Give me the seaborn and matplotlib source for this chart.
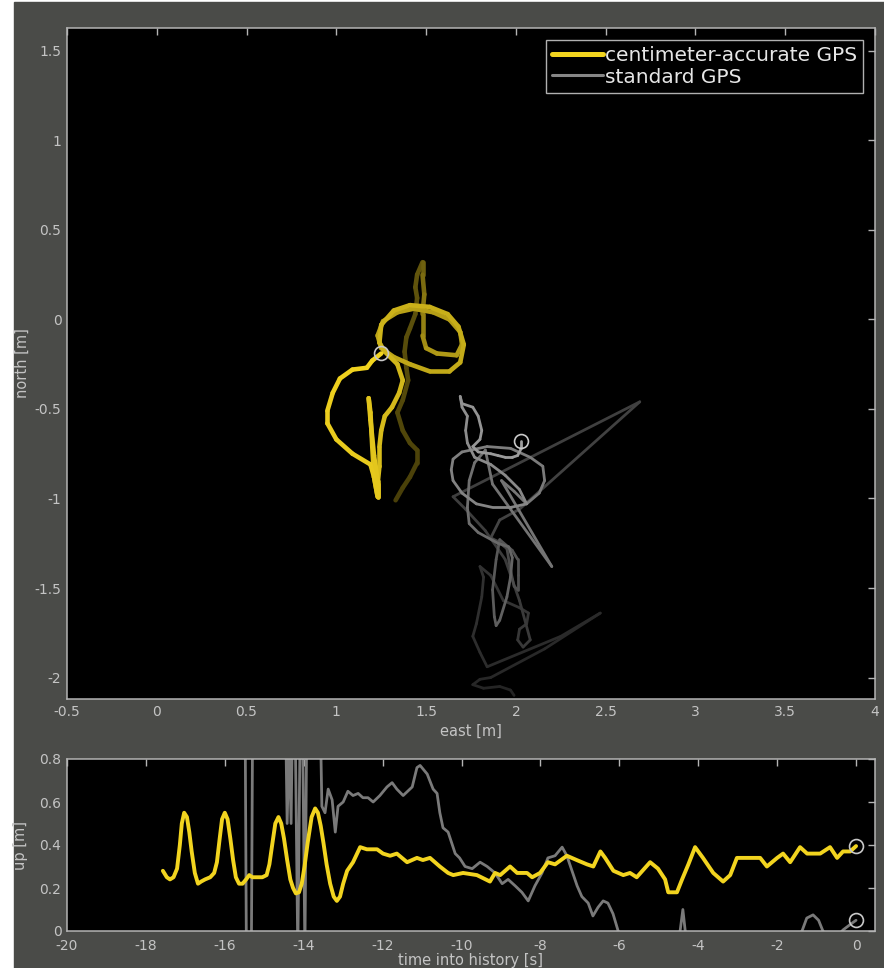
import numpy as np
import matplotlib
matplotlib.use("Agg")
import matplotlib.pyplot as plt
import seaborn as sns
from matplotlib.collections import LineCollection
from matplotlib.lines import Line2D
from matplotlib.patches import Rectangle
from matplotlib.ticker import FuncFormatter

# ---------------------------------------------------------------- data
# centimeter-accurate GPS track, oldest -> newest (metres)
rtk_east = [1.33, 1.37, 1.41, 1.45, 1.45, 1.41, 1.37, 1.34, 1.37, 1.40,
            1.39, 1.38, 1.39, 1.41, 1.44, 1.45, 1.44, 1.45, 1.48, 1.48,
            1.49, 1.48, 1.48, 1.50, 1.56, 1.67, 1.70, 1.69, 1.63, 1.54,
            1.43, 1.34, 1.26, 1.23, 1.25, 1.32, 1.41, 1.52, 1.63, 1.69,
            1.71, 1.68, 1.62, 1.52, 1.41, 1.32, 1.25, 1.24, 1.27, 1.34,
            1.37, 1.35, 1.31, 1.27, 1.25, 1.24, 1.24, 1.23, 1.23, 1.21,
            1.20, 1.19, 1.18, 1.19, 1.21, 1.23, 1.23, 1.21, 1.19, 1.09,
            1.00, 0.95, 0.95, 0.98, 1.02, 1.09, 1.17, 1.20, 1.25]
rtk_north = [-1.01, -0.94, -0.88, -0.80, -0.73, -0.69, -0.62, -0.52, -0.45, -0.34,
             -0.27, -0.18, -0.10, -0.05, 0.03, 0.12, 0.18, 0.25, 0.32, 0.25,
             0.14, 0.03, -0.09, -0.16, -0.19, -0.20, -0.14, -0.07, 0.00, 0.04,
             0.06, 0.04, -0.01, -0.09, -0.16, -0.21, -0.25, -0.29, -0.29, -0.24,
             -0.14, -0.04, 0.03, 0.07, 0.08, 0.05, -0.03, -0.13, -0.18, -0.25,
             -0.34, -0.41, -0.49, -0.54, -0.62, -0.71, -0.82, -0.92, -0.99, -0.88,
             -0.71, -0.52, -0.44, -0.56, -0.76, -0.90, -0.99, -0.88, -0.81, -0.75,
             -0.67, -0.58, -0.51, -0.41, -0.33, -0.28, -0.27, -0.23, -0.19]

# standard GPS track, oldest -> newest (metres)
std_east = [1.99, 1.97, 1.91, 1.82, 1.76, 1.80, 1.86, 2.16, 2.47, 2.25,
            1.84, 1.80, 1.76, 1.78, 1.81, 1.82, 1.80, 1.86, 1.93, 2.02,
            2.07, 2.06, 2.02, 2.01, 2.04, 2.08, 2.02, 1.94, 1.83, 1.72,
            1.65, 2.69, 2.02, 1.91, 1.86, 1.90, 1.95, 1.97, 1.99, 2.01,
            2.01, 2.01, 1.98, 1.91, 1.89, 1.87, 1.88, 1.89, 1.91, 1.95,
            1.97, 1.98, 1.96, 1.90, 1.79, 1.74, 1.73, 1.74, 1.77, 1.83,
            1.87, 2.20, 1.92, 1.99, 2.06, 2.13, 2.16, 2.15, 2.08, 1.97,
            1.84, 1.70, 1.65, 1.64, 1.65, 1.70, 1.78, 1.87, 1.97, 2.06,
            2.02, 1.94, 1.86, 1.77, 1.73, 1.72, 1.73, 1.70, 1.69, 1.70,
            1.76, 1.79, 1.81, 1.80, 1.76, 1.79, 1.86, 1.90, 1.94, 1.98,
            2.01, 2.03, 2.03]
std_north = [-2.10, -2.07, -2.05, -2.06, -2.04, -2.01, -2.00, -1.84, -1.64, -1.77,
             -1.94, -1.86, -1.77, -1.70, -1.55, -1.44, -1.38, -1.43, -1.57, -1.61,
             -1.64, -1.70, -1.73, -1.79, -1.83, -1.79, -1.57, -1.34, -1.18, -1.06,
             -0.99, -0.46, -1.06, -1.12, -1.22, -1.24, -1.28, -1.40, -1.49, -1.51,
             -1.43, -1.34, -1.29, -1.23, -1.34, -1.51, -1.66, -1.71, -1.68, -1.55,
             -1.44, -1.33, -1.27, -1.25, -1.19, -1.14, -1.05, -0.90, -0.80, -0.73,
             -0.92, -1.38, -0.90, -0.96, -1.03, -0.97, -0.90, -0.82, -0.77, -0.72,
             -0.71, -0.74, -0.78, -0.84, -0.90, -0.97, -1.03, -1.05, -1.05, -1.03,
             -0.95, -0.87, -0.81, -0.77, -0.69, -0.62, -0.54, -0.49, -0.43, -0.47,
             -0.49, -0.54, -0.62, -0.67, -0.71, -0.74, -0.75, -0.76, -0.77, -0.77,
             -0.76, -0.72, -0.68]

# height history
rtk_t = [-17.57, -17.47, -17.39, -17.3, -17.21, -17.14, -17.09, -17.03, -16.96, -16.9,
         -16.84, -16.76, -16.68, -16.6, -16.5, -16.37, -16.27, -16.2, -16.13, -16.07,
         -16.0, -15.93, -15.86, -15.79, -15.72, -15.64, -15.55, -15.46, -15.38, -15.3,
         -15.2, -15.05, -14.94, -14.87, -14.8, -14.72, -14.64, -14.57, -14.5, -14.42,
         -14.34, -14.27, -14.2, -14.12, -14.05, -13.98, -13.9, -13.8, -13.71, -13.64,
         -13.57, -13.5, -13.42, -13.33, -13.24, -13.16, -13.08, -13.0, -12.9, -12.75,
         -12.57, -12.4, -12.14, -11.99, -11.81, -11.64, -11.38, -11.13, -10.98, -10.8,
         -10.55, -10.34, -10.21, -9.96, -9.61, -9.28, -9.15, -9.02, -8.77, -8.59,
         -8.34, -8.21, -8.01, -7.81, -7.63, -7.33, -7.08, -6.82, -6.66, -6.48,
         -6.36, -6.15, -5.9, -5.73, -5.56, -5.22, -5.02, -4.84, -4.76, -4.54,
         -4.41, -4.25, -4.08, -3.88, -3.62, -3.37, -3.19, -3.02, -2.76, -2.43,
         -2.26, -2.0, -1.85, -1.67, -1.42, -1.24, -0.91, -0.66, -0.48, -0.33,
         -0.15, 0.0]
rtk_up = [0.28, 0.25, 0.24, 0.25, 0.29, 0.40, 0.50, 0.55, 0.53, 0.46,
          0.37, 0.27, 0.22, 0.23, 0.24, 0.25, 0.27, 0.32, 0.43, 0.52,
          0.55, 0.52, 0.43, 0.33, 0.25, 0.22, 0.22, 0.24, 0.26, 0.25,
          0.25, 0.25, 0.26, 0.31, 0.40, 0.50, 0.53, 0.50, 0.43, 0.33,
          0.24, 0.20, 0.175, 0.18, 0.22, 0.30, 0.41, 0.53, 0.57, 0.55,
          0.49, 0.41, 0.31, 0.22, 0.16, 0.14, 0.16, 0.22, 0.28, 0.32,
          0.39, 0.38, 0.38, 0.36, 0.35, 0.36, 0.32, 0.34, 0.33, 0.34,
          0.30, 0.27, 0.26, 0.27, 0.26, 0.23, 0.27, 0.26, 0.30, 0.27,
          0.27, 0.25, 0.27, 0.32, 0.31, 0.35, 0.33, 0.31, 0.30, 0.37,
          0.34, 0.28, 0.26, 0.27, 0.25, 0.32, 0.29, 0.24, 0.18, 0.18,
          0.24, 0.31, 0.39, 0.34, 0.27, 0.23, 0.26, 0.34, 0.34, 0.34,
          0.30, 0.34, 0.36, 0.32, 0.39, 0.36, 0.36, 0.39, 0.34, 0.37,
          0.37, 0.395]

std_t = [-15.5, -15.45, -15.33, -15.28, -14.5, -14.42, -14.37, -14.32, -14.25, -14.15,
         -14.06, -13.97, -13.9, -13.6, -13.54, -13.46, -13.38, -13.28, -13.2, -13.13,
         -13.0, -12.88, -12.75, -12.62, -12.5, -12.37, -12.24, -12.07, -11.89, -11.76,
         -11.64, -11.48, -11.25, -11.13, -11.05, -10.87, -10.72, -10.62, -10.55, -10.47,
         -10.34, -10.16, -10.05, -9.91, -9.73, -9.53, -9.35, -9.15, -8.97, -8.82,
         -8.64, -8.47, -8.31, -8.14, -7.96, -7.81, -7.63, -7.45, -7.33, -7.2,
         -7.07, -6.95, -6.79, -6.67, -6.54, -6.41, -6.29, -6.16, -6.03, -5.7,
         -5.0, -4.46, -4.39, -4.33, -3.8, -2.5, -1.37, -1.25, -1.09, -0.95,
         -0.84, -0.6, -0.33, -0.15, 0.0]
std_up = [1.5, -0.2, -0.2, 1.5, 1.5, 0.5, 0.9, 0.5, 1.5, -0.1,
          1.5, -0.1, 1.5, 1.2, 0.58, 0.55, 0.66, 0.61, 0.46, 0.58,
          0.60, 0.65, 0.63, 0.64, 0.62, 0.62, 0.60, 0.63, 0.67, 0.69,
          0.66, 0.63, 0.67, 0.76, 0.77, 0.73, 0.66, 0.64, 0.55, 0.48,
          0.46, 0.36, 0.34, 0.30, 0.29, 0.32, 0.30, 0.27, 0.22, 0.24,
          0.21, 0.18, 0.14, 0.21, 0.27, 0.34, 0.35, 0.39, 0.35, 0.28,
          0.21, 0.16, 0.13, 0.07, 0.11, 0.14, 0.13, 0.08, 0.0, -0.15,
          -0.2, 0.0, 0.1, 0.0, -0.15, -0.2, 0.0, 0.06, 0.075, 0.05,
          0.0, -0.05, 0.005, 0.03, 0.05]

east_ticks = [-0.5, 0, 0.5, 1, 1.5, 2, 2.5, 3, 3.5, 4]
north_ticks = [-2, -1.5, -1, -0.5, 0, 0.5, 1, 1.5]
time_ticks = [-20, -18, -16, -14, -12, -10, -8, -6, -4, -2, 0]
up_ticks = [0, 0.2, 0.4, 0.6, 0.8]
labels = ["centimeter-accurate GPS", "standard GPS"]

# ---------------------------------------------------------------- style
YELLOW = np.array([0.95, 0.83, 0.12])
GRAY = np.array([0.62, 0.62, 0.62])
BG = "#4a4b48"
SPINE = "#b4b4b4"
TEXT = "#c4c4c4"

sns.set_theme(style="dark")
plt.rcParams["font.family"] = ["DejaVu Sans"]


def faded_track(ax, x, y, rgb, lw, knots, levels):
    """Draw a track whose older segments fade into the black background."""
    pts = np.column_stack([x, y])
    segs = np.stack([pts[:-1], pts[1:]], axis=1)
    age = np.linspace(0, 1, len(segs))
    fade = np.interp(age, knots, levels)
    cols = rgb[None, :] * fade[:, None]
    lc = LineCollection(segs, colors=cols, linewidths=lw,
                        capstyle="round", joinstyle="round")
    ax.add_collection(lc)


def style_axes(ax):
    ax.set_facecolor("black")
    ax.grid(False)
    for sp in ax.spines.values():
        sp.set_color(SPINE)
        sp.set_linewidth(1.1)
        sp.set_visible(True)
    ax.tick_params(direction="in", top=True, right=True, length=5, width=1,
                   color=SPINE, labelcolor=TEXT, labelsize=10, pad=4)
    fmt = FuncFormatter(lambda v, p: f"{v:g}")
    ax.xaxis.set_major_formatter(fmt)
    ax.yaxis.set_major_formatter(fmt)


fig = plt.figure(figsize=(8.84, 9.68), dpi=100, facecolor="white")
fig.patches.append(Rectangle((14 / 884, 0), 1, 1 - 2 / 968,
                             transform=fig.transFigure, color=BG, zorder=-10))

# ---------------------------------------------------------------- map view
ax = fig.add_axes([67 / 884, 1 - 699 / 968, 808 / 884, 671 / 968])
style_axes(ax)
faded_track(ax, std_east, std_north, GRAY, 2.0,
            [0, 0.3, 0.55, 1], [0.22, 0.4, 0.7, 1.0])
faded_track(ax, rtk_east, rtk_north, YELLOW, 3.3,
            [0, 0.22, 0.3, 0.6, 1], [0.3, 0.4, 0.72, 0.85, 1.0])
ax.plot(std_east[-1], std_north[-1], "o", mfc="none", mec="#c8c8c8", ms=10, mew=1.2)
ax.plot(rtk_east[-1], rtk_north[-1], "o", mfc="none", mec="#c8c8c8", ms=10, mew=1.2)
ax.set_xlim(-0.5, 4.0)
ax.set_ylim(-2.12, 1.628)
ax.set_xticks(east_ticks)
ax.set_yticks(north_ticks)
ax.set_xlabel("east [m]", color=TEXT, fontsize=10.5, labelpad=4)
ax.set_ylabel("north [m]", color=TEXT, fontsize=10.5)
ax.yaxis.set_label_coords(-0.046, 0.5)

handles = [Line2D([], [], color=YELLOW, lw=3.6),
           Line2D([], [], color=GRAY * 0.85, lw=2.2)]
leg = ax.legend(handles, labels, loc="upper right", fontsize=14.5,
                frameon=True, fancybox=False, facecolor="black",
                edgecolor="#b0b0b0", framealpha=1, labelcolor="#e6e6e6",
                handlelength=2.5, handletextpad=0.1, borderpad=0.3,
                labelspacing=0.12, borderaxespad=0.6)
leg.get_frame().set_linewidth(1.0)

# ---------------------------------------------------------------- height
ax2 = fig.add_axes([67 / 884, 1 - 931 / 968, 808 / 884, 172 / 968])
style_axes(ax2)
sns.lineplot(x=std_t, y=std_up, ax=ax2, color="#7a7a7a", linewidth=2.0,
             sort=False, estimator=None, solid_joinstyle="round")
sns.lineplot(x=rtk_t, y=rtk_up, ax=ax2, color=YELLOW, linewidth=2.8,
             sort=False, estimator=None, solid_joinstyle="round")
ax2.plot(std_t[-1], std_up[-1], "o", mfc="none", mec="#c8c8c8", ms=10, mew=1.2)
ax2.plot(rtk_t[-1], rtk_up[-1], "o", mfc="none", mec="#c8c8c8", ms=10, mew=1.2)
ax2.set_xlim(-20, 0.48)
ax2.set_ylim(0, 0.8)
ax2.set_xticks(time_ticks)
ax2.set_yticks(up_ticks)
ax2.tick_params(axis="x", pad=6)
ax2.set_xlabel("time into history [s]", color=TEXT, fontsize=10.5, labelpad=0)
ax2.set_ylabel("up [m]", color=TEXT, fontsize=10.5)
ax2.yaxis.set_label_coords(-0.048, 0.5)

fig.savefig("out.png", dpi=100, facecolor=fig.get_facecolor())
plt.close(fig)
